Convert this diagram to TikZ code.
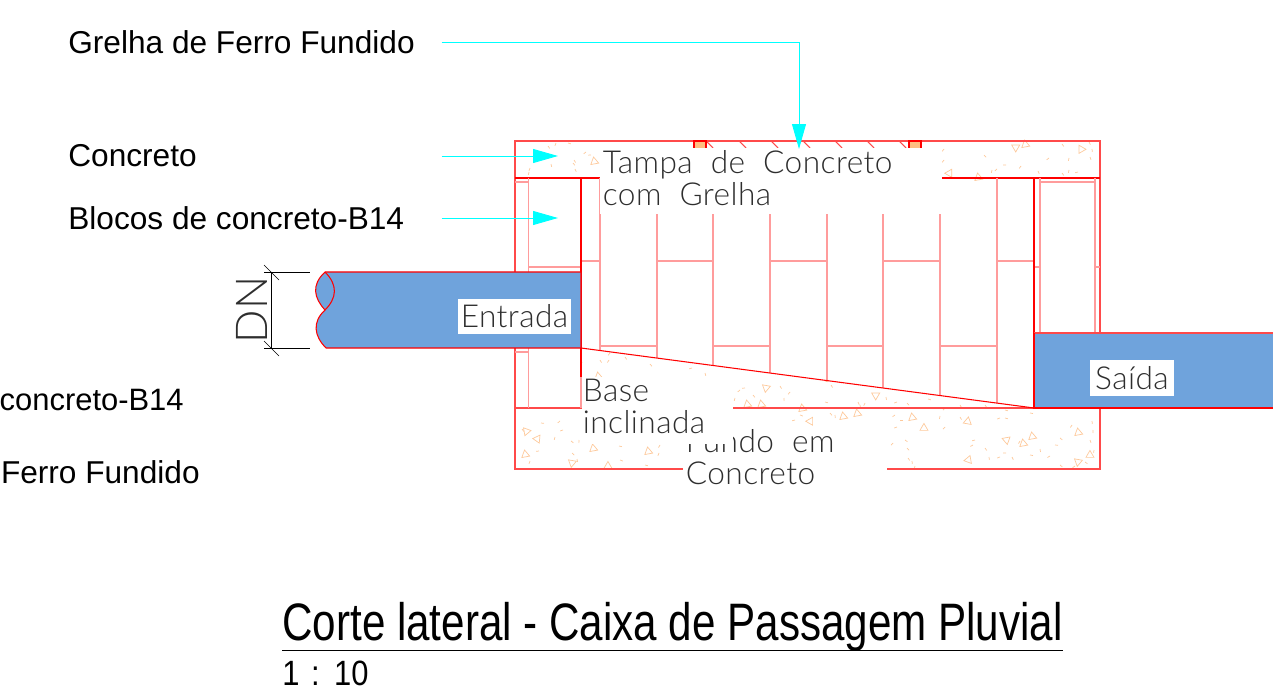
\documentclass[tikz,border=0pt]{standalone}
\usepackage{fontspec}
\setmainfont{Liberation Sans}
\newfontfamily\cadfont[WordSpace=2,LetterSpace=1.4]{Lato Light}
\newfontfamily\titlefont[FakeStretch=0.8]{Liberation Sans}
\newfontfamily\escalafont[FakeStretch=0.88,WordSpace=1.35]{Liberation Sans}
\usepackage{xcolor}
\usepackage{tikz}
\usetikzlibrary{positioning,arrows.meta,calc}

\definecolor{pipeblue}{HTML}{6FA3DC}
\definecolor{cadred}{HTML}{FF4A4A}
\definecolor{blockred}{HTML}{FF9C9C}
\definecolor{speckorange}{HTML}{FDC99B}
\definecolor{grateorange}{HTML}{FFBE80}
\definecolor{cadgray}{HTML}{2E2E2E}
\definecolor{leadercyan}{RGB}{0,255,255}

\begin{document}
\begin{tikzpicture}[
    x=0.02cm, y=-0.02cm,
    >=Stealth,
    sidelabel/.style={anchor=west, inner sep=0pt, text width=7.46cm, align=flush left, font=\fontsize{18}{20}\selectfont},
    cuttext/.style={anchor=east, inner sep=0pt, font=\fontsize{18}{20}\selectfont},
    cadtext/.style={fill=white, inner xsep=0.05cm, inner ysep=0.04cm, text=cadgray, align=flush left, font=\cadfont\fontsize{18}{18.2}\selectfont},
    wallline/.style={draw=cadred, line width=0.6pt},
    mainline/.style={draw=red, line width=0.6pt},
    blockline/.style={draw=blockred, line width=0.6pt},
    speck/.style={draw=speckorange, line width=0.4pt},
    leader/.style={draw=leadercyan, line width=0.5pt, -{Triangle[length=0.5cm,width=0.28cm,fill=leadercyan]}},
    dimline/.style={draw=black, line width=0.35pt}
]

\useasboundingbox (0,0) rectangle (1273,692);

% concrete specks
\foreach \x/\y in {530/168,529/172,548/146,556/143,568/143,586/152,591/155,574/160,551/164,575/169,573/163,
    944/149,944/160,984/155,992/170,1003/165,997/169,1021/166,1038/171,1049/158,1069/158,1069/170,1062/173,1078/172,1092/149,1090/157,1089/142,1062/144,
    522/429,541/423,560/421,563/430,555/437,539/451,571/441,579/440,572/453,577/459,619/446,660/445,659/453,645/465,620/460,530/461,
    582/362,600/360,609/360,625/357,610/353,650/364,692/368,705/373,740/390,735/398,745/388,753/395,780/386,784/398,790/392,
    825/381,825/402,831/385,858/402,865/403,886/397,897/402,907/403,928/399,945/408,960/405,985/405,
    830/413,860/405,895/415,900/420,897/427,893/443,905/440,907/448,908/458,912/461,915/466,940/416,945/427,960/417,975/440,973/445,
    985/448,989/457,1000/457,1003/453,1012/457,1020/441,1030/455,1040/449,1050/456,1055/445,1060/438,1072/425,1092/421,1090/440,1094/450,
    1060/465,1075/466,1085/462,1093/430,1030/413,1005/410,1000/418,1005/418,835/415,800/415,795/420}
    \draw[speck] (\x,\y) -- ++({mod(\x*7,180)}:3);
\foreach \x/\y/\a in {597/159/0,953/173/40,981/175/0,1019/149/70,1028/142/0,1083/146/-20,
    529/434/90,541/439/45,528/452/0,575/465/80,611/464/10,651/449/0,596/446/0,
    601/374/0,750/402/0,764/402/0,769/390/80,805/406/0,814/421/40,879/397/70,
    846/414/0,860/411/0,915/415/0,971/420/20,927/426/10,1026/441/0,1010/441/60,1035/434/0,1081/430/0,972/459/30,1093/453/10,1081/464/80}
    \draw[speck] (\x,\y) ++({\a+210}:4) -- ++({\a+50}:8) -- ++({\a+170}:8) -- cycle;

% box outline
\draw[wallline] (515,272) -- (515,141) -- (1100,141) -- (1100,469) -- (515,469) -- (515,348);
\draw[mainline] (515,178) -- (1100,178);
\draw[wallline] (515,408) -- (1034,408);

% grate
\foreach \x in {706,739,771,803,835,867,899}
    \draw[wallline] (\x,141) -- ++(7,7);
\foreach \x in {694,909}
    \draw[mainline, fill=grateorange] (\x,141) rectangle ++(12,8);

% block walls on the left
\draw[blockline] (528.5,178) -- (528.5,272);
\draw[blockline] (528.5,348) -- (528.5,408);
\draw[blockline] (515,182) -- (528.5,182);
\draw[blockline] (528.5,267) -- (581,267);
\draw[blockline] (515,352) -- (528.5,352);
\draw[blockline] (581,348) -- (581,408);

% block walls on the right
\draw[blockline] (1040,178) -- (1040,333);
\draw[blockline] (1095,178) -- (1095,333);
\draw[blockline] (1040,182) -- (1095,182);
\draw[blockline] (1034,267) -- (1040,267);
\draw[blockline] (1095,267) -- (1100,267);

% blocks at the back
\foreach \x in {600,657,713,770,827,883,940,997}
    \draw[blockline] (\x,178) -- (\x,{348+(\x-581)*0.1325});
\foreach \x/\w in {581/19,657/56,770/57,883/57,997/37}
    \draw[blockline] (\x,261) -- ++(\w,0);
\foreach \x/\w in {600/57,713/57,827/56,940/57}
    \draw[blockline] (\x,346) -- ++(\w,0);

% sloped base and inner faces
\draw[mainline] (581,348) -- (1034,408);
\draw[mainline] (581,178) -- (581,377);
\draw[mainline] (1034,178) -- (1034,408);

% inlet pipe
\draw[mainline, fill=pipeblue] (325,272) .. controls (311,285) and (314,298) .. (325,310)
    .. controls (312,322) and (314,336) .. (326,348) -- (581,348) -- (581,272) -- cycle;
\draw[mainline] (325,272) .. controls (338,285) and (337,298) .. (325,310);

% outlet pipe
\fill[pipeblue] (1034,333) rectangle (1273,408);
\draw[wallline] (1273,333) -- (1034,333);
\draw[mainline] (1034,333) -- (1034,408) -- (1273,408);

% dimension
\coordinate (dntop) at (271,272);
\coordinate (dnbottom) at (271,348);
\draw[dimline] (264,272) -- (310,272);
\draw[dimline] (264,348) -- (310,348);
\draw[dimline] (dntop) -- (dnbottom);
\draw[dimline] ($(dntop)+(-7,-7)$) -- ($(dntop)+(8,8)$);
\draw[dimline] ($(dnbottom)+(-7,-7)$) -- ($(dnbottom)+(8,8)$);
\node[rotate=90, text=cadgray, inner sep=0pt, font=\cadfont\fontsize{25}{25}\selectfont] (dn) at (252,310) {DN};

% texts over the drawing
\node[cadtext, anchor=north west, text width=6.73cm] (tampa) at (600,148) {Tampa de Concreto\\com Grelha\rule[-1.4mm]{0pt}{0pt}};
\node[cadtext, anchor=north west, text width=3.98cm] (fundo) at (683,427) {Fundo em\\Concreto};
\node[cadtext, anchor=north west, inner xsep=0.02cm, text width=2.99cm] (base) at (581.5,377) {Base\\inclinada\rule[-1.7mm]{0pt}{0pt}};
\node[cadtext, minimum width=2.26cm, minimum height=0.7cm] (entrada) at (514.5,316.5) {Entrada};
\node[cadtext, minimum width=1.68cm, minimum height=0.72cm] (saida) at (1132,378) {Saída};

% side labels and leaders
\node[sidelabel] (grelha) at (68,42) {Grelha de Ferro Fundido};
\node[sidelabel] (concreto) at (68,156) {Concreto};
\node[sidelabel] (blocos) at (68,218) {Blocos de concreto-B14};
\node[cuttext, font=\fontsize{17.6}{20}\selectfont] (blocoscut) at (184,400) {concreto-B14};
\node[cuttext] (grelhacut) at (200,472) {Ferro Fundido};

\coordinate (grelhatip) at (799,149);
\coordinate (concretotip) at (558,156);
\coordinate (blocostip) at (558,218);
\draw[leader] (grelha.east) -| (grelhatip);
\draw[leader] (concreto.east) -- (concretotip);
\draw[leader] (blocos.east) -- (blocostip);

% title
\node[anchor=base west, inner sep=0pt, font=\titlefont\fontsize{30}{32}\selectfont] (titulo) at (282,640) {Corte lateral - Caixa de Passagem Pluvial};
\coordinate (ruleend) at (1063,650.5);
\draw[line width=0.4pt] (282,650.5) -- (ruleend);
\node[anchor=base west, inner sep=0pt, font=\escalafont\fontsize{20}{22}\selectfont] (escala) at (282,685) {1 : 10};

\end{tikzpicture}
\end{document}
